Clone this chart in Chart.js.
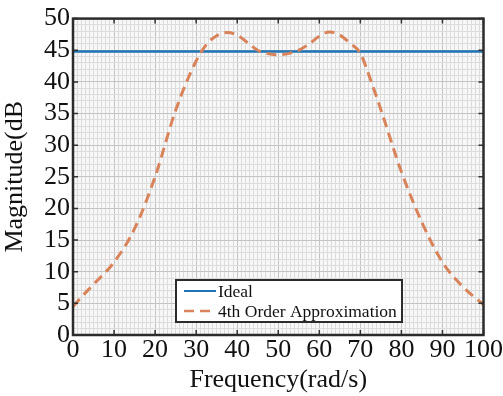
<!DOCTYPE html>
<html>
<head>
<meta charset="utf-8">
<script src="https://cdn.jsdelivr.net/npm/chart.js@4.4.1/dist/chart.umd.min.js"></script>
<style>
  html, body { margin: 0; padding: 0; background: #fff; }
  #wrap { width: 503px; height: 396px; }
</style>
</head>
<body>
<div id="wrap"><canvas id="myChart" width="503" height="396"></canvas></div>
<script>
// values
const idealFreq = [0, 100];
const idealMag = [44.8, 44.8];

const approxFreq = [0, 2.5, 5, 10, 15, 20, 25, 30, 32.5, 35, 37.5, 40, 42.5, 45, 50, 55, 57.5, 60, 62.5, 65, 67.5, 70, 72.5, 75, 80, 85, 90, 95, 100];
const approxMag = [4.5, 6.3, 8.0, 11.5, 16.8, 25, 35.5, 43.3, 45.9, 47.3, 47.8, 47.4, 46.2, 45.0, 44.3, 45.0, 46.0, 47.2, 47.9, 47.4, 46.1, 44.5, 40.3, 35.6, 25.8, 17.8, 11.5, 7.6, 4.8];

const xTicks = [0, 10, 20, 30, 40, 50, 60, 70, 80, 90, 100];
const yTicks = [0, 5, 10, 15, 20, 25, 30, 35, 40, 45, 50];

const seriesLabels = ['Ideal', '4th Order Approximation'];
const blue = '#1f74b5';
const orange = '#d9835a';
const serif = '"Liberation Serif", "DejaVu Serif", serif';

function toPoints(xs, ys) {
    return xs.map((x, i) => ({ x: x, y: ys[i] }));
}

// MATLAB-like frame: full box, inner ticks, legend inside the axes
const framePlugin = {
    id: 'frame',
    beforeDraw(chart) {
        const { ctx, chartArea: a } = chart;
        ctx.save();
        ctx.fillStyle = '#f7f7f7';
        ctx.fillRect(a.left, a.top, a.right - a.left, a.bottom - a.top);
        ctx.restore();
    },
    afterDraw(chart) {
        const { ctx, chartArea: a, scales } = chart;
        ctx.save();
        ctx.strokeStyle = '#333';
        ctx.lineWidth = 1.5;
        ctx.beginPath();
        xTicks.forEach(v => {
            const px = scales.x.getPixelForValue(v);
            ctx.moveTo(px, a.bottom); ctx.lineTo(px, a.bottom - 5);
            ctx.moveTo(px, a.top); ctx.lineTo(px, a.top + 5);
        });
        yTicks.forEach(v => {
            const py = scales.y.getPixelForValue(v);
            ctx.moveTo(a.left, py); ctx.lineTo(a.left + 5, py);
            ctx.moveTo(a.right, py); ctx.lineTo(a.right - 5, py);
        });
        ctx.stroke();

        ctx.lineWidth = 2.5;
        ctx.strokeStyle = '#2b2b2b';
        ctx.strokeRect(a.left, a.top, a.right - a.left, a.bottom - a.top);

        // legend box
        const lx = 176, ly = 280, lw = 226, lh = 42;
        ctx.fillStyle = '#fff';
        ctx.fillRect(lx, ly, lw, lh);
        ctx.lineWidth = 2;
        ctx.strokeStyle = '#2b2b2b';
        ctx.strokeRect(lx, ly, lw, lh);

        ctx.font = '17.5px ' + serif;
        ctx.textBaseline = 'middle';
        ctx.fillStyle = '#111';
        chart.data.datasets.forEach((ds, i) => {
            const rowY = ly + 11 + i * 20;
            ctx.beginPath();
            ctx.strokeStyle = ds.borderColor;
            ctx.lineWidth = i === 0 ? 2 : 2.5;
            ctx.setLineDash(ds.borderDash || []);
            ctx.moveTo(lx + 8, rowY);
            ctx.lineTo(lx + 40, rowY);
            ctx.stroke();
            ctx.setLineDash([]);
            ctx.fillText(ds.label, lx + 42, rowY + 1);
        });
        ctx.restore();
    }
};

const ctx = document.getElementById('myChart').getContext('2d');
new Chart(ctx, {
    type: 'line',
    data: {
        datasets: [{
            label: seriesLabels[0],
            data: toPoints(idealFreq, idealMag),
            borderColor: blue,
            borderWidth: 2.5,
            pointRadius: 0,
            order: 2
        }, {
            label: seriesLabels[1],
            data: toPoints(approxFreq, approxMag),
            borderColor: orange,
            borderWidth: 3,
            borderDash: [10, 6],
            pointRadius: 0,
            cubicInterpolationMode: 'monotone',
            order: 1
        }]
    },
    options: {
        responsive: false,
        animation: false,
        layout: { padding: { top: 14, right: 18, left: 0, bottom: 0 } },
        plugins: {
            legend: { display: false },
            tooltip: { enabled: false }
        },
        scales: {
            x: {
                type: 'linear',
                min: 0,
                max: 100,
                afterFit: scale => { scale.height = 61; },
                border: { display: false },
                grid: {
                    drawTicks: false,
                    color: c => (c.tick && c.tick.value % 10 === 0) ? '#c4c4c4' : '#dcdcdc',
                    lineWidth: 1
                },
                ticks: {
                    stepSize: 1,
                    autoSkip: false,
                    maxRotation: 0,
                    maxTicksLimit: 110,
                    padding: 0,
                    color: '#111',
                    font: { family: serif, size: 26 },
                    callback: v => xTicks.includes(v) ? String(v) : ''
                },
                title: {
                    display: true,
                    text: 'Frequency(rad/s)',
                    color: '#111',
                    font: { family: serif, size: 26 },
                    padding: { top: -6, bottom: 0 }
                }
            },
            y: {
                min: 0,
                max: 50,
                afterFit: scale => { scale.width = 73; },
                border: { display: false },
                grid: {
                    drawTicks: false,
                    color: c => (c.tick && c.tick.value % 5 === 0) ? '#c4c4c4' : '#dcdcdc',
                    lineWidth: 1
                },
                ticks: {
                    stepSize: 1,
                    autoSkip: false,
                    maxTicksLimit: 60,
                    padding: 3,
                    color: '#111',
                    font: { family: serif, size: 26 },
                    callback: v => yTicks.includes(v) ? String(v) : ''
                },
                title: {
                    display: true,
                    text: 'Magnitude(dB',
                    color: '#111',
                    font: { family: serif, size: 26 },
                    padding: { top: 0, bottom: 0 }
                }
            }
        }
    },
    plugins: [framePlugin]
});
</script>
</body>
</html>
